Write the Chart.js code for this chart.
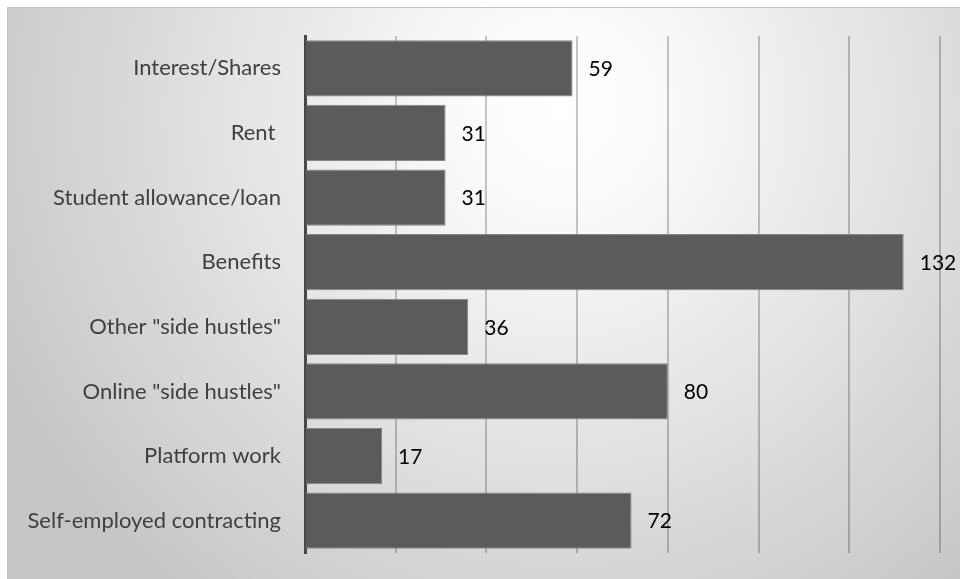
<!DOCTYPE html>
<html>
<head>
<meta charset="utf-8">
<script src="https://cdn.jsdelivr.net/npm/chart.js@4/dist/chart.umd.min.js"></script>
<style>
  html, body { margin: 0; padding: 0; background: #fff; }
  #wrap { width: 960px; height: 579px; }
</style>
</head>
<body>
<div id="wrap"><canvas id="incomeChart" width="960" height="579"></canvas></div>
<script>
const categories = [
  'Interest/Shares',
  'Rent ',
  'Student allowance/loan',
  'Benefits',
  'Other "side hustles"',
  'Online "side hustles"',
  'Platform work',
  'Self-employed contracting'
];
const counts = [59, 31, 31, 132, 36, 80, 17, 72];
const xTicks = [0, 20, 40, 60, 80, 100, 120, 140];

// soft radial backdrop with a thin frame, Office style
const backdrop = {
  id: 'backdrop',
  beforeDraw(chart) {
    const ctx = chart.ctx;
    const w = chart.width, h = chart.height;
    ctx.save();
    ctx.fillStyle = '#ffffff';
    ctx.fillRect(0, 0, w, h);
    const g = ctx.createRadialGradient(560, 110, 0, 560, 110, 620);
    g.addColorStop(0, '#ffffff');
    g.addColorStop(0.15, '#fbfbfb');
    g.addColorStop(1, '#c6c6c6');
    ctx.fillStyle = g;
    ctx.fillRect(7, 7, w - 7, h - 7);
    ctx.strokeStyle = '#c4c4c4';
    ctx.lineWidth = 1;
    ctx.beginPath();
    ctx.moveTo(7.5, h);
    ctx.lineTo(7.5, 7.5);
    ctx.lineTo(w, 7.5);
    ctx.stroke();
    ctx.restore();
  }
};

// value printed to the right of each bar
const barValues = {
  id: 'barValues',
  afterDatasetsDraw(chart) {
    const ctx = chart.ctx;
    const meta = chart.getDatasetMeta(0);
    ctx.save();
    ctx.font = '21px Lato, "Open Sans", sans-serif';
    ctx.fillStyle = '#000000';
    ctx.textAlign = 'left';
    ctx.textBaseline = 'middle';
    meta.data.forEach((bar, i) => {
      ctx.fillText(String(counts[i]), bar.x + 16, bar.y + 1);
    });
    ctx.restore();
  }
};

new Chart(document.getElementById('incomeChart'), {
  type: 'bar',
  data: {
    labels: categories,
    datasets: [{
      data: counts,
      backgroundColor: '#5b5b5b',
      borderColor: '#878787',
      borderWidth: 1,
      borderSkipped: 'start',
      categoryPercentage: 1,
      barPercentage: 0.87
    }]
  },
  options: {
    indexAxis: 'y',
    responsive: false,
    animation: false,
    layout: { padding: { left: 0, top: 36, right: 20, bottom: 26 } },
    plugins: {
      legend: { display: false },
      tooltip: { enabled: false }
    },
    scales: {
      x: {
        min: 0,
        max: 140,
        afterBuildTicks(scale) {
          scale.ticks = xTicks.map(v => ({ value: v }));
        },
        afterFit(scale) {
          scale.height = 0;
          scale.paddingLeft = scale.paddingRight = 0;
        },
        ticks: { display: false },
        border: { display: false },
        grid: {
          color: 'rgba(0, 0, 0, 0.22)',
          lineWidth: 2,
          drawTicks: false
        }
      },
      y: {
        afterFit(scale) {
          scale.width = 305;
          scale.paddingTop = scale.paddingBottom = 0;
        },
        border: { display: true, color: '#474747', width: 3 },
        grid: { display: false, drawTicks: false },
        ticks: {
          padding: 24,
          color: '#404040',
          font: { family: 'Lato, "Open Sans", sans-serif', size: 22 }
        }
      }
    }
  },
  plugins: [backdrop, barValues]
});
</script>
</body>
</html>
